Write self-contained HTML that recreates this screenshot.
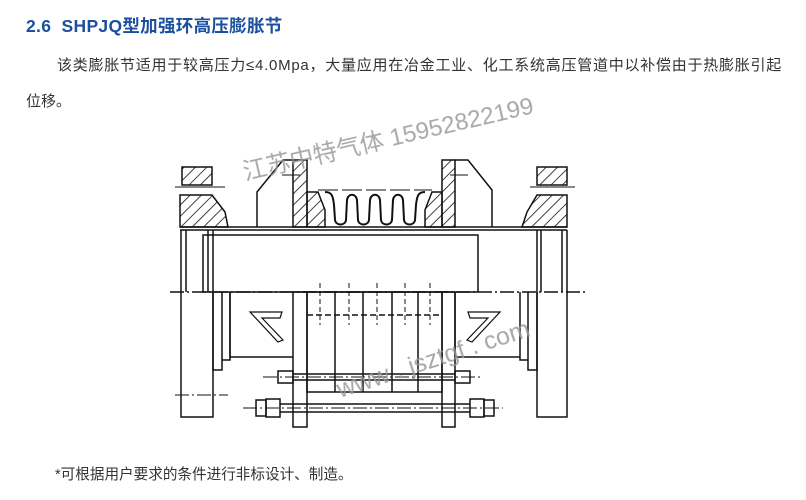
<!DOCTYPE html>
<html><head><meta charset="utf-8"><style>
body{margin:0;background:#fff;width:806px;height:500px;overflow:hidden;position:relative;font-family:"Liberation Sans","Noto Sans CJK SC",sans-serif}
.t{position:absolute;white-space:nowrap}
</style></head><body>
<div class="t" style="left:26px;top:13px;font-size:17.5px;font-weight:bold;color:#1c4f9e;letter-spacing:0.3px">2.6&nbsp; SHPJQ型加强环高压膨胀节</div>
<div class="t" style="left:57px;top:54px;font-size:15px;color:#333;letter-spacing:0.75px">该类膨胀节适用于较高压力≤4.0Mpa，大量应用在冶金工业、化工系统高压管道中以补偿由于热膨胀引起</div>
<div class="t" style="left:26px;top:90px;font-size:15px;color:#333">位移。</div>
<div class="t" style="left:55px;top:463px;font-size:14.6px;color:#333">*可根据用户要求的条件进行非标设计、制造。</div>
<svg width="806" height="500" style="position:absolute;left:0;top:0" xmlns="http://www.w3.org/2000/svg">
<defs><pattern id="h" width="8" height="8" patternUnits="userSpaceOnUse" patternTransform="rotate(45)"><line x1="0" y1="0" x2="0" y2="8" stroke="#111" stroke-width="1.6"/></pattern></defs>
<g stroke="#111" stroke-width="1.5" fill="none">
<line x1="180" y1="227" x2="567" y2="227"/>
<line x1="180" y1="230" x2="567" y2="230"/>
<rect x="203" y="235" width="275" height="57"/>
<line x1="170" y1="292" x2="585" y2="292" stroke-dasharray="14 3 2 3"/>
<path d="M182 167 H212 V185 H182 Z" fill="url(#h)"/>
<path d="M180 195 H212 L225 212 L228 227 H180 Z" fill="url(#h)"/>
<line x1="175" y1="187" x2="225" y2="187" stroke-width="1"/>
<path d="M181 230 V417 H213 V230"/>
<line x1="186" y1="230" x2="186" y2="292"/><line x1="208" y1="230" x2="208" y2="292"/>
<path d="M213 292 V370 H222 V292 M222 292 V360 H230 V292"/>
<line x1="175" y1="395" x2="228" y2="395" stroke-dasharray="14 3 2 3" stroke-width="1"/>
<path d="M537 167 H567 V185 H537 Z" fill="url(#h)"/>
<path d="M537 195 H567 V227 H522 L527 212 Z" fill="url(#h)"/>
<line x1="530" y1="187" x2="575" y2="187" stroke-width="1"/>
<path d="M537 230 V417 H567 V230"/>
<line x1="562" y1="230" x2="562" y2="292"/><line x1="541" y1="230" x2="541" y2="292"/>
<path d="M537 292 V370 H528 V292 M528 292 V360 H520 V292"/>
<path d="M257 227 V192 L283 160 H293"/>
<path d="M455 160 H468 L492 190 V227"/>
<line x1="282" y1="175" x2="300" y2="175" stroke-width="1"/>
<line x1="450" y1="175" x2="468" y2="175" stroke-width="1"/>
<rect x="293" y="160" width="14" height="67" fill="url(#h)"/>
<rect x="442" y="160" width="13" height="67" fill="url(#h)"/>
<rect x="293" y="292" width="14" height="135"/>
<rect x="442" y="292" width="13" height="135"/>
<path d="M307 192 H318 L325 210 V227 H307 Z" fill="url(#h)"/>
<path d="M442 192 H432 L425 210 V227 H442 Z" fill="url(#h)"/>
<path d="M325 192 C332 192 333 196 334 205 L335 220 C336 226 345 226 346 220 L347 200 C348 193 356 193 357 200 L358 220 C359 226 368 226 369 220 L370 200 C371 193 379 193 380 200 L381 220 C382 226 391 226 392 220 L393 200 C394 193 402 193 403 200 L404 220 C405 226 414 226 415 220 L416 205 C417 196 418 192 425 192" stroke-width="2"/>
<line x1="318" y1="190" x2="432" y2="190" stroke-dasharray="20 4" stroke-width="1"/>
<path d="M230 292 V357 H293"/>
<path d="M455 292 V357 H520"/>
<path d="M250 312 H282 L280 318 H262 L283 340 L278 342 Z" stroke-width="1.2"/>
<path d="M500 312 H468 L470 318 H488 L467 340 L472 342 Z" stroke-width="1.2"/>
<rect x="307" y="292" width="135" height="100"/>
<line x1="335" y1="292" x2="335" y2="392"/><line x1="363" y1="292" x2="363" y2="392"/>
<line x1="392" y1="292" x2="392" y2="392"/><line x1="418" y1="292" x2="418" y2="392"/>
<line x1="307" y1="315" x2="442" y2="315" stroke-dasharray="6 3"/>
<g stroke-width="1" stroke-dasharray="5 3"><line x1="320" y1="283" x2="320" y2="325"/><line x1="349" y1="283" x2="349" y2="325"/><line x1="377" y1="283" x2="377" y2="325"/><line x1="405" y1="283" x2="405" y2="325"/><line x1="430" y1="283" x2="430" y2="325"/></g>
<line x1="263" y1="377" x2="483" y2="377" stroke-dasharray="14 3 2 3" stroke-width="1"/>
<rect x="278" y="371" width="15" height="12"/><rect x="455" y="371" width="15" height="12"/>
<line x1="293" y1="374" x2="455" y2="374"/><line x1="293" y1="380" x2="455" y2="380"/>
<line x1="243" y1="408" x2="503" y2="408" stroke-dasharray="14 3 2 3" stroke-width="1"/>
<rect x="256" y="400" width="10" height="16"/><rect x="266" y="399" width="14" height="18"/>
<rect x="470" y="399" width="14" height="18"/><rect x="484" y="400" width="10" height="16"/>
<line x1="280" y1="404" x2="470" y2="404"/><line x1="280" y1="412" x2="470" y2="412"/>
</g>
<g fill="#999" font-family="Liberation Sans,'Noto Sans CJK SC',sans-serif" opacity="0.85">
<text x="245" y="180" font-size="24" transform="rotate(-13 245 180)">江苏中特气体 15952822199</text>
<text x="340" y="398" font-size="25" transform="rotate(-18 340 398)">www . jsztgf . com</text>
</g>
</svg>
</body></html>
